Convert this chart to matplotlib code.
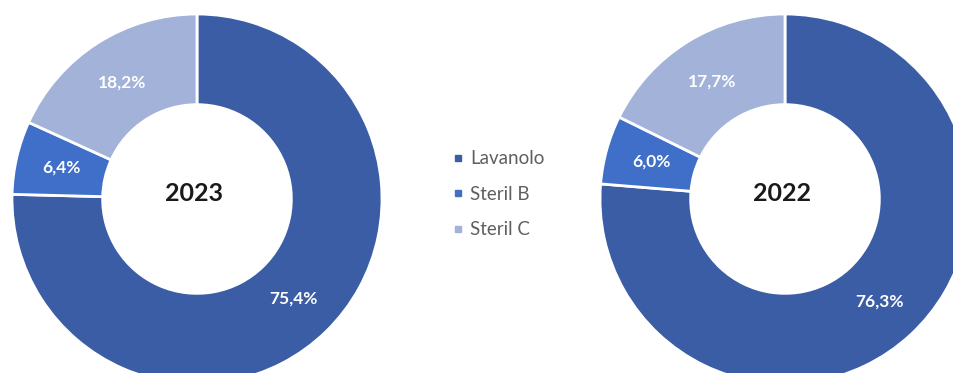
import matplotlib.pyplot as plt
from matplotlib.lines import Line2D

plt.rcParams['font.family'] = ['Lato', 'DejaVu Sans']

categories = ['Lavanolo', 'Steril B', 'Steril C']
years = ['2023', '2022']
shares_2023 = [75.4, 6.4, 18.2]
shares_2022 = [76.3, 6.0, 17.7]
colors = ['#3A5DA6', '#3F6FC8', '#A3B2D9']

W, H = 954, 373
fig = plt.figure(figsize=(W / 100, H / 100), dpi=100)
ax = fig.add_axes([0, 0, 1, 1])

# donut centres and sizes in pixel units
centers = [(197, H - 199), (785, H - 199)]
radius = 185
ring = 0.49


def pct_label(p):
    return f'{p:.1f}'.replace('.', ',') + '%'


for year, shares, c in zip(years, [shares_2023, shares_2022], centers):
    wedges, _, autotexts = ax.pie(
        shares, colors=colors, startangle=90, counterclock=False,
        radius=radius, center=c, autopct=pct_label, pctdistance=0.75,
        wedgeprops=dict(width=radius * ring, edgecolor='white', linewidth=2),
        textprops=dict(color='white', fontsize=12.5, fontweight='bold'))
    ax.text(c[0] - 3, c[1] + 5, year, ha='center', va='center',
            fontsize=18, fontweight='bold', color='#1a1a1a')

ax.set_xlim(0, W)
ax.set_ylim(0, H)
ax.set_axis_off()

handles = [Line2D([], [], marker='s', linestyle='none', markersize=4.5,
                  markerfacecolor=col, markeredgecolor=col) for col in colors]
leg = ax.legend(handles, categories, loc='upper left',
                bbox_to_anchor=(444 / W, 1 - 141 / H), frameon=False,
                fontsize=13.5, handlelength=0.45, handletextpad=0.43,
                labelspacing=0.98, borderpad=0)
for t in leg.get_texts():
    t.set_color('#5f5f5f')

fig.savefig('out.png', dpi=100)
